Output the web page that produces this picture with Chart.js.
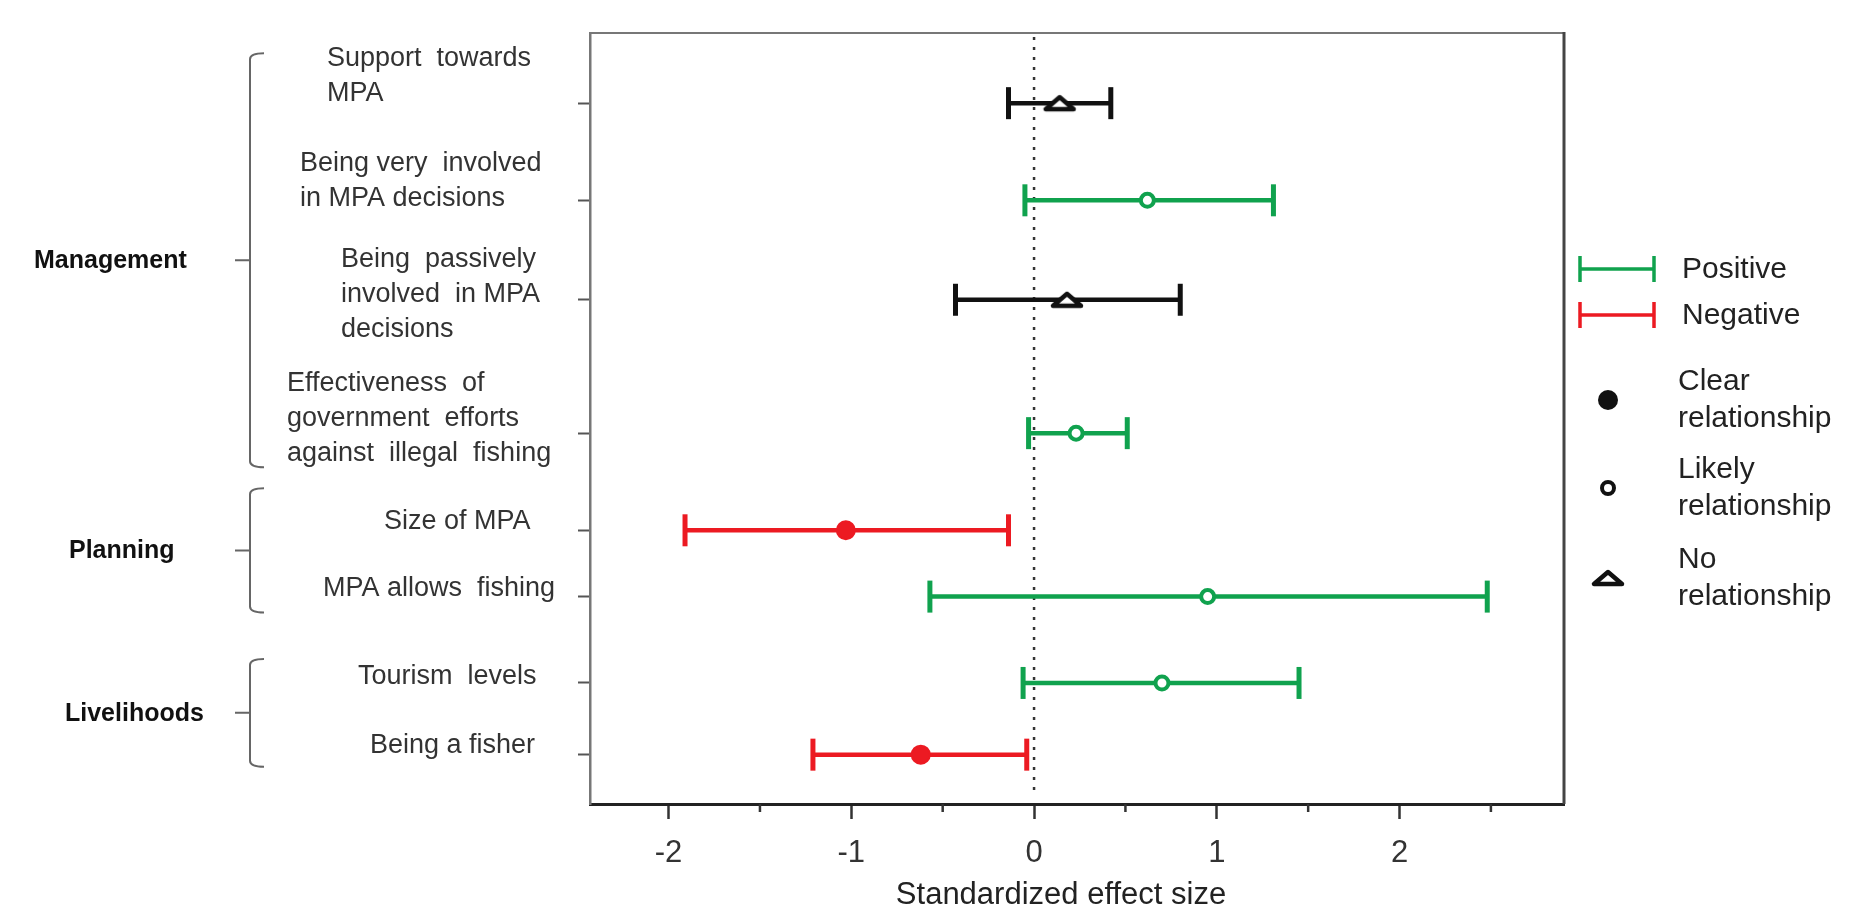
<!DOCTYPE html>
<html>
<head>
<meta charset="utf-8">
<title>Standardized effect size</title>
<script src="https://cdn.jsdelivr.net/npm/chart.js@4.4.1/dist/chart.umd.min.js"></script>
<style>
  html, body { margin: 0; padding: 0; background: #fff; }
  #wrap { width: 1867px; height: 912px; }
</style>
</head>
<body>
<div id="wrap"><canvas id="chart"></canvas></div>
<script>
/* ---------- Datos ---------- */
const rowLabels = [
  ['Support  towards', 'MPA'],
  ['Being very  involved', 'in MPA decisions'],
  ['Being  passively', 'involved  in MPA', 'decisions'],
  ['Effectiveness  of', 'government  efforts', 'against  illegal  fishing'],
  ['Size of MPA'],
  ['MPA allows  fishing'],
  ['Tourism  levels'],
  ['Being a fisher']
];
const rowY      = [90.9, 78.3, 65.4, 48.1, 35.5, 26.9, 15.7, 6.4];
const estimates = [0.14, 0.62, 0.18, 0.23, -1.03, 0.95, 0.70, -0.62];
const lower     = [-0.14, -0.05, -0.43, -0.03, -1.91, -0.57, -0.06, -1.21];
const upper     = [0.42, 1.31, 0.80, 0.51, -0.14, 2.48, 1.45, -0.04];
const direction = ['none', 'positive', 'none', 'positive', 'negative', 'positive', 'positive', 'negative'];
const relation  = ['none', 'likely', 'none', 'likely', 'clear', 'likely', 'likely', 'clear'];

const groupNames = ['Management', 'Planning', 'Livelihoods'];
const groupFirst = [0, 4, 6];
const groupLast  = [3, 5, 7];

const xTicks      = [-2, -1.5, -1, -0.5, 0, 0.5, 1, 1.5, 2, 2.5];
const xTickLabels = ['-2', '', '-1', '', '0', '', '1', '', '2', ''];
const xTitle      = 'Standardized effect size';

const legendLines   = ['Positive', 'Negative'];
const legendMarkers = [['Clear', 'relationship'], ['Likely', 'relationship'], ['No', 'relationship']];

/* ---------- Estilo y maquetación ---------- */
const FONT = "'Liberation Sans', Arial, sans-serif";
const COLORS = { positive: '#10a24e', negative: '#ec1a22', none: '#111111' };
const LAYOUT = {
  labelLeft:  [327, 300, 341, 287, 384, 323, 358, 370],
  labelShift: [-28, -20, -6, -16, -10, -9, -7, -10],
  lineH: 35,
  groupLeft: [34, 69, 65],
  bracketPad: [[50, 34], [42, 16], [24, 12]],
  bracketX: 250,
  titleShift: -16
};
const LEGEND = {
  lineX1: 16, lineX2: 90, textX: 118, lineY: [269, 315],
  markX: 44, markY: [400, 488, 578], markTextX: 114, markLineOff: [-18, 19]
};

function makeTriangle(color) {
  const c = document.createElement('canvas');
  c.width = 38; c.height = 24;
  const g = c.getContext('2d');
  g.beginPath(); g.moveTo(5, 18); g.lineTo(33, 18); g.lineTo(19, 6); g.closePath();
  g.fillStyle = '#fff'; g.fill();
  g.lineWidth = 4.5; g.lineJoin = 'round'; g.strokeStyle = color; g.stroke();
  return c;
}
const TRIANGLE = makeTriangle('#111');

/* ---------- Datasets ---------- */
const markerSet = {
  label: 'estimates',
  data: estimates.map((v, i) => ({ x: v, y: rowY[i] })),
  pointStyle: relation.map(r => r === 'none' ? TRIANGLE : 'circle'),
  pointRadius: relation.map(r => r === 'clear' ? 9 : r === 'likely' ? 6.5 : 12),
  pointBackgroundColor: relation.map((r, i) => r === 'clear' ? COLORS[direction[i]] : '#fff'),
  pointBorderColor: direction.map(d => COLORS[d]),
  pointBorderWidth: relation.map(r => r === 'clear' ? 2 : 4),
  showLine: false
};

const whiskerSets = rowY.map((yv, i) => ({
  label: 'ci' + i,
  data: [{ x: lower[i], y: yv }, { x: upper[i], y: yv }],
  showLine: true,
  borderColor: COLORS[direction[i]],
  borderWidth: 4.5,
  pointStyle: 'line',
  pointRotation: 90,
  pointRadius: 16,
  pointBorderWidth: 5,
  pointBorderColor: COLORS[direction[i]]
}));

/* ---------- Decoraciones: etiquetas, llaves, leyenda ---------- */
const decor = {
  id: 'decor',
  beforeDatasetsDraw(chart) {
    const { ctx, chartArea: a, scales: { x } } = chart;
    const x0 = x.getPixelForValue(0);
    ctx.save();
    ctx.strokeStyle = '#333'; ctx.lineWidth = 2.5; ctx.setLineDash([3, 7]);
    ctx.beginPath(); ctx.moveTo(x0, a.top + 4); ctx.lineTo(x0, a.bottom - 8); ctx.stroke();
    ctx.restore();
  },
  afterDraw(chart) {
    const { ctx, chartArea: a, scales: { x, y } } = chart;
    ctx.save();

    // marco superior y derecho
    ctx.strokeStyle = '#777'; ctx.lineWidth = 2;
    ctx.beginPath(); ctx.moveTo(a.left, a.top); ctx.lineTo(a.right, a.top); ctx.stroke();
    ctx.strokeStyle = '#444'; ctx.lineWidth = 3;
    ctx.beginPath(); ctx.moveTo(a.right, a.top - 1); ctx.lineTo(a.right, a.bottom); ctx.stroke();

    // ticks menores del eje x
    ctx.strokeStyle = '#333'; ctx.lineWidth = 2.5;
    xTicks.forEach(v => {
      if (Number.isInteger(v)) return;
      const px = x.getPixelForValue(v);
      ctx.beginPath(); ctx.moveTo(px, a.bottom); ctx.lineTo(px, a.bottom + 8); ctx.stroke();
    });

    // título del eje x
    ctx.font = `31px ${FONT}`; ctx.fillStyle = '#222';
    ctx.textAlign = 'center'; ctx.textBaseline = 'middle';
    ctx.fillText(xTitle, (a.left + a.right) / 2 + LAYOUT.titleShift, 895);

    // etiquetas de filas
    ctx.font = `27px ${FONT}`; ctx.fillStyle = '#333';
    ctx.textAlign = 'left';
    rowLabels.forEach((lines, i) => {
      const cy = y.getPixelForValue(rowY[i]) + LAYOUT.labelShift[i];
      const y0 = cy - (lines.length - 1) * LAYOUT.lineH / 2;
      lines.forEach((t, k) => ctx.fillText(t, LAYOUT.labelLeft[i], y0 + k * LAYOUT.lineH + 1));
    });

    // grupos y llaves
    const bx = LAYOUT.bracketX;
    groupNames.forEach((name, g) => {
      const top = y.getPixelForValue(rowY[groupFirst[g]]) - LAYOUT.bracketPad[g][0];
      const bot = y.getPixelForValue(rowY[groupLast[g]]) + LAYOUT.bracketPad[g][1];
      const mid = (top + bot) / 2;
      ctx.strokeStyle = '#666'; ctx.lineWidth = 2;
      ctx.beginPath();
      ctx.moveTo(bx + 14, top);
      ctx.quadraticCurveTo(bx, top, bx, top + 6);
      ctx.lineTo(bx, bot - 6);
      ctx.quadraticCurveTo(bx, bot, bx + 14, bot);
      ctx.moveTo(bx, mid); ctx.lineTo(bx - 15, mid);
      ctx.stroke();
      ctx.font = `bold 25px ${FONT}`; ctx.fillStyle = '#111';
      ctx.fillText(name, LAYOUT.groupLeft[g], mid + 1);
    });

    // leyenda
    const R = a.right;
    ctx.font = `30px ${FONT}`; ctx.fillStyle = '#222';
    legendLines.forEach((txt, k) => {
      const col = k === 0 ? COLORS.positive : COLORS.negative;
      const ly = LEGEND.lineY[k];
      ctx.strokeStyle = col; ctx.lineWidth = 3.5;
      ctx.beginPath();
      ctx.moveTo(R + LEGEND.lineX1, ly); ctx.lineTo(R + LEGEND.lineX2, ly);
      ctx.moveTo(R + LEGEND.lineX1, ly - 13); ctx.lineTo(R + LEGEND.lineX1, ly + 13);
      ctx.moveTo(R + LEGEND.lineX2, ly - 13); ctx.lineTo(R + LEGEND.lineX2, ly + 13);
      ctx.stroke();
      ctx.fillText(txt, R + LEGEND.textX, ly + 1);
    });
    legendMarkers.forEach((lines, k) => {
      const mx = R + LEGEND.markX, my = LEGEND.markY[k];
      ctx.fillStyle = '#111'; ctx.strokeStyle = '#111';
      if (k === 0) {
        ctx.beginPath(); ctx.arc(mx, my, 10, 0, Math.PI * 2); ctx.fill();
      } else if (k === 1) {
        ctx.lineWidth = 4;
        ctx.beginPath(); ctx.arc(mx, my, 6, 0, Math.PI * 2); ctx.stroke();
      } else {
        ctx.drawImage(TRIANGLE, mx - TRIANGLE.width / 2, my - TRIANGLE.height / 2);
      }
      ctx.fillStyle = '#222';
      lines.forEach((t, j) => ctx.fillText(t, R + LEGEND.markTextX, my + LEGEND.markLineOff[j]));
    });

    ctx.restore();
  }
};

/* ---------- Gráfica ---------- */
new Chart(document.getElementById('chart'), {
  type: 'scatter',
  data: { datasets: [markerSet, ...whiskerSets] },
  plugins: [decor],
  options: {
    responsive: true,
    maintainAspectRatio: false,
    animation: false,
    events: [],
    layout: { padding: { top: 33, right: 303, bottom: 0, left: 0 } },
    plugins: { legend: { display: false }, tooltip: { enabled: false } },
    scales: {
      x: {
        type: 'linear', min: -2.43, max: 2.90,
        afterBuildTicks: s => { s.ticks = xTicks.map(v => ({ value: v })); },
        afterFit: s => { s.height = 108; },
        ticks: {
          autoSkip: false, maxRotation: 0, padding: 16,
          color: '#333', font: { family: FONT, size: 31 },
          callback: (v, i) => xTickLabels[i]
        },
        grid: {
          drawOnChartArea: false, drawTicks: true, tickLength: 15, tickWidth: 2.5,
          tickColor: c => (c.tick && Number.isInteger(c.tick.value)) ? '#333' : 'rgba(0,0,0,0)'
        },
        border: { display: true, color: '#222', width: 3 },
        title: { display: false }
      },
      y: {
        type: 'linear', min: 0, max: 100,
        afterBuildTicks: s => { s.ticks = rowY.map(v => ({ value: v })); },
        afterFit: s => { s.width = 590; },
        ticks: { display: false },
        grid: { drawOnChartArea: false, drawTicks: true, tickLength: 12, tickWidth: 2, tickColor: '#555' },
        border: { display: true, color: '#777', width: 2.5 }
      }
    }
  }
});
</script>
</body>
</html>
